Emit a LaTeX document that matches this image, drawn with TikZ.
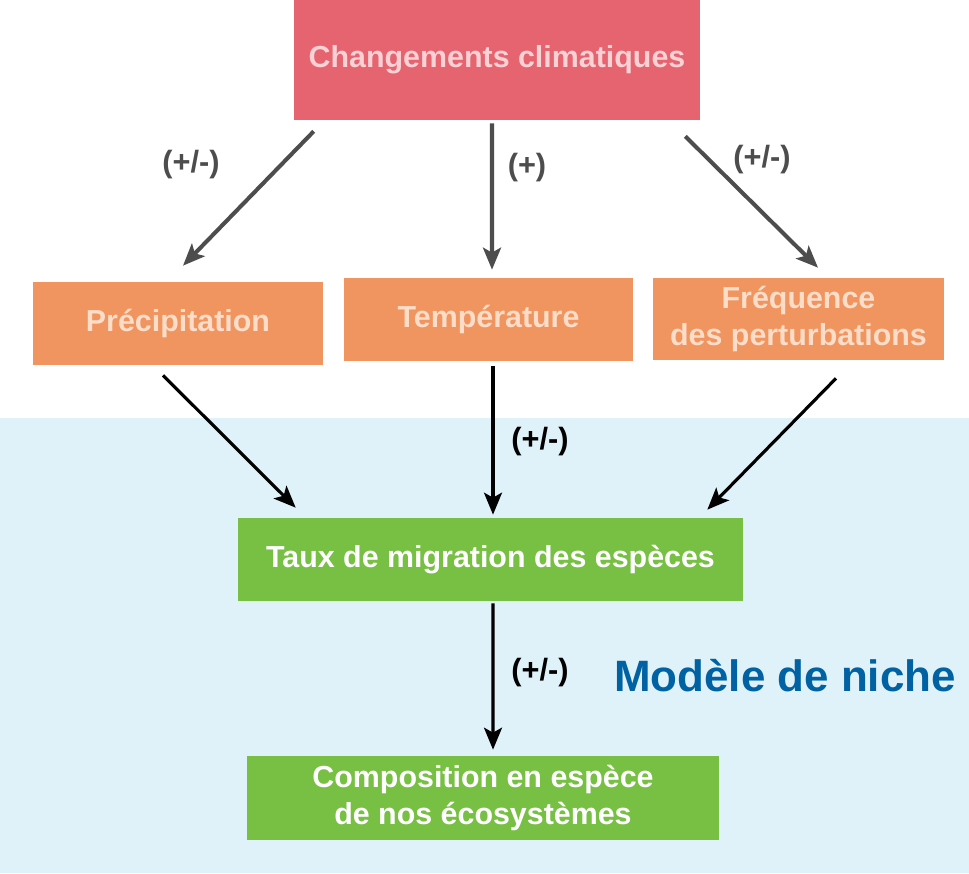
\documentclass[tikz,border=0pt]{standalone}
\usepackage{fontspec}
\setmainfont{Liberation Sans}
\usetikzlibrary{arrows.meta,calc}
\definecolor{climred}{HTML}{E5646F}
\definecolor{climtext}{HTML}{FAD1D5}
\definecolor{factorange}{HTML}{F0955F}
\definecolor{facttext}{HTML}{FCDDC9}
\definecolor{migrgreen}{HTML}{77C043}
\definecolor{nichebg}{HTML}{E0F2F9}
\definecolor{nicheblue}{HTML}{0061A3}
\definecolor{arrowgray}{HTML}{4D4D4D}
\tikzset{
  box/.style={rectangle,inner sep=0pt,align=center,
    font=\fontsize{17.3}{21.5}\selectfont\bfseries},
  climbox/.style={box,fill=climred,text=climtext},
  factbox/.style={box,fill=factorange,text=facttext},
  migrbox/.style={box,fill=migrgreen,text=white},
  effect/.style={font=\fontsize{17.5}{21}\selectfont\bfseries},
  grayarrow/.style={draw=arrowgray,line width=2.3pt,
    -{Stealth[length=0.44cm,width=0.36cm,inset=0.1cm]}},
  blackarrow/.style={draw=black,line width=1.8pt,
    -{Stealth[length=0.44cm,width=0.36cm,inset=0.1cm]}}
}
\begin{document}
\begin{tikzpicture}[x=0.02cm,y=-0.02cm]
\useasboundingbox (0,0) rectangle (969,873);
\fill[white] (0,0) rectangle (969,873);
\fill[nichebg] (0,418) rectangle (969,873);
% boxes
\node[climbox,minimum width=8.12cm,minimum height=2.4cm] (clim) at (497,60) {Changements climatiques};
\node[factbox,minimum width=5.8cm,minimum height=1.66cm] (prec) at (178,323.5) {Précipitation};
\node[factbox,minimum width=5.78cm,minimum height=1.66cm] (temp) at (488.5,319.5) {Température};
\node[factbox,minimum width=5.82cm,minimum height=1.64cm] (freq) at (798.5,319) {Fréquence\\des perturbations};
\node[migrbox,minimum width=10.1cm,minimum height=1.66cm] (migr) at (490.5,559.5) {Taux de migration des espèces};
\node[migrbox,minimum width=9.44cm,minimum height=1.68cm] (comp) at (483,798) {Composition en espèce\\de nos écosystèmes};
% labels
\node[effect,text=arrowgray] (lprec) at (191,165) {(+/-)};
\node[effect,text=arrowgray] (ltemp) at (527,168) {(+)};
\node[effect,text=arrowgray] (lfreq) at (762,160) {(+/-)};
\node[effect] (lmigr) at (540,442) {(+/-)};
\node[effect] (lcomp) at (540,673) {(+/-)};
\node[text=nicheblue,font=\fontsize{25}{30}\selectfont\bfseries] (niche) at (785,676) {Modèle de niche};
% arrows
\draw[grayarrow] ($(clim.south west)+(20,11)$) -- ($(prec.north)+(5,-16)$);
\draw[grayarrow] ($(clim.south)+(-5,3)$) -- ($(temp.north)+(3.5,-8)$);
\draw[grayarrow] ($(clim.south east)+(-15,16)$) -- ($(freq.north)+(19.5,-10)$);
\draw[blackarrow] ($(prec.south)+(-15,10)$) -- ($(migr.north west)+(58,-10)$);
\draw[blackarrow] ($(temp.south)+(4.5,5)$) -- ($(migr.north)+(2.5,-3)$);
\draw[blackarrow] ($(freq.south)+(37.5,18)$) -- ($(migr.north east)+(-36,-8)$);
\draw[blackarrow] ($(migr.south)+(2.5,2)$) -- ($(comp.north)+(10,-6)$);
\end{tikzpicture}
\end{document}
